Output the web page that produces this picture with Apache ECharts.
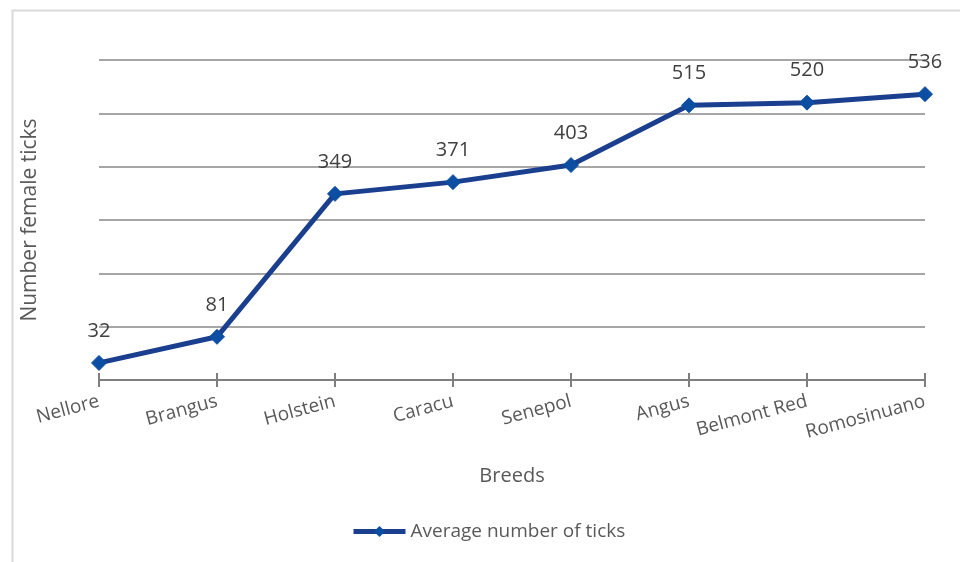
<!DOCTYPE html>
<html>
<head>
<meta charset="utf-8">
<title>Average number of ticks by breed</title>
<script src="https://cdn.jsdelivr.net/npm/echarts@6/dist/echarts.min.js"></script>
<style>
  html, body { margin: 0; padding: 0; background: #ffffff; }
  #chart { width: 960px; height: 562px; }
</style>
</head>
<body>
<div id="chart"></div>
<script>
// Breeds on the category axis
const breeds = ['Nellore', 'Brangus', 'Holstein', 'Caracu', 'Senepol', 'Angus', 'Belmont Red', 'Romosinuano'];
// Average number of female ticks per breed
const avgTicks = [32, 81, 349, 371, 403, 515, 520, 536];
const seriesName = 'Average number of ticks';

const textGray = '#595959';
const fontFamily = '"Open Sans", "Noto Sans", sans-serif';
const lineBlue = '#1a3f8e';
const markerBlue = '#0b4ea2';

const gridBox = { left: 99, right: 35, top: 60, bottom: 182 };

const chart = echarts.init(document.getElementById('chart'), null, { renderer: 'canvas' });

chart.setOption({
  backgroundColor: '#ffffff',
  animation: false,
  textStyle: { fontFamily: fontFamily, color: textGray },
  graphic: [
    {
      type: 'rect',
      left: 10, top: 8,
      shape: { width: 980, height: 600 },
      style: { fill: 'none', stroke: '#d9d9d9', lineWidth: 2 },
      silent: true, z: -10
    }
  ],
  legend: {
    bottom: 16,
    left: 346,
    itemWidth: 52,
    itemHeight: 14,
    itemGap: 4,
    lineStyle: { width: 5 },
    textStyle: { fontSize: 19, color: textGray, fontFamily: fontFamily },
    data: [seriesName]
  },
  grid: [
    Object.assign({ containLabel: false }, gridBox),
    Object.assign({ containLabel: false }, gridBox)
  ],
  xAxis: [
    {
      type: 'category',
      gridIndex: 0,
      data: breeds,
      boundaryGap: false,
      name: 'Breeds',
      nameLocation: 'middle',
      nameGap: 86,
      nameTextStyle: { fontSize: 20, color: textGray, fontFamily: fontFamily },
      axisLine: { lineStyle: { color: '#7f7f7f', width: 2 } },
      axisTick: { show: true, inside: false, length: 7, alignWithLabel: true, lineStyle: { color: '#7f7f7f', width: 2 } },
      axisLabel: { rotate: 15, margin: 21, fontSize: 19, color: textGray, fontFamily: fontFamily },
      splitLine: { show: false }
    },
    {
      // inward half of the crossing tick marks
      type: 'category',
      gridIndex: 1,
      data: breeds,
      boundaryGap: false,
      axisLine: { show: false },
      axisTick: { show: true, inside: true, length: 7, lineStyle: { color: '#7f7f7f', width: 2 } },
      axisLabel: { show: false },
      splitLine: { show: false }
    }
  ],
  yAxis: [
    {
      type: 'value',
      gridIndex: 0,
      min: 0,
      max: 600,
      interval: 100,
      name: 'Number female ticks',
      nameLocation: 'middle',
      nameRotate: 90,
      nameGap: 58,
      nameTextStyle: { fontSize: 21, color: textGray, fontFamily: fontFamily },
      axisLine: { show: false },
      axisTick: { show: false },
      axisLabel: { show: false },
      splitLine: { show: true, lineStyle: { color: '#a6a6a6', width: 2 } }
    },
    {
      type: 'value',
      gridIndex: 1,
      min: 0,
      max: 600,
      interval: 100,
      show: false
    }
  ],
  series: [
    {
      name: seriesName,
      type: 'line',
      xAxisIndex: 0,
      yAxisIndex: 0,
      data: avgTicks,
      symbol: 'diamond',
      symbolSize: 15,
      lineStyle: { color: lineBlue, width: 5 },
      itemStyle: { color: markerBlue, borderColor: markerBlue },
      label: {
        show: true,
        position: 'top',
        distance: 14,
        fontSize: 20,
        color: '#404040',
        fontFamily: fontFamily
      },
      z: 5
    }
  ]
});
</script>
</body>
</html>
